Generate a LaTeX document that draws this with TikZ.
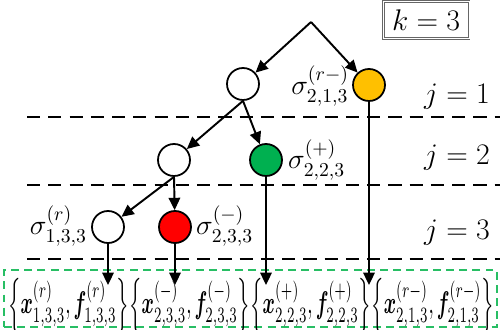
\documentclass[tikz,border=0pt]{standalone}
\usepackage{fix-cm}
\usepackage{amsmath,bm}
\usetikzlibrary{arrows.meta}
\definecolor{myyellow}{RGB}{255,192,0}
\definecolor{mygreen}{RGB}{0,176,80}
\definecolor{boxgreen}{RGB}{40,190,100}
\begin{document}
\begin{tikzpicture}[x=0.02cm,y=-0.02cm,
  txt/.style={font=\fontsize{17}{19}\selectfont, inner sep=1pt},
  sig/.style={font=\fontsize{16}{18}\selectfont, inner sep=1pt},
  state/.style={circle, draw=black, line width=1pt, minimum size=0.64cm, inner sep=0pt},
  edge/.style={line width=1.1pt, -{Triangle[length=7pt,width=6.5pt]}},
  level/.style={dash pattern=on 7.5pt off 4.6pt, line width=1.6pt},
  gbox/.style={draw=boxgreen, dash pattern=on 4.5pt off 3pt, line width=1pt}]
\useasboundingbox (0,0) rectangle (500,330);
% level separators
\draw[level] (27,117) -- (500,117);
\draw[level] (27,185) -- (500,185);
\draw[level] (27,259) -- (500,259);
% green box
\node[gbox, minimum width=9.86cm, minimum height=1.14cm, inner sep=0pt] (box) at (250.5,298.5) {};
% tree
\coordinate (top) at (311,22);
\node[state] (a) at (243,84) {};
\node[state, fill=myyellow] (y) at (369,85) {};
\node[state] (b) at (174,160) {};
\node[state, fill=mygreen] (g) at (266,160) {};
\node[state] (c) at (108,227) {};
\node[state, fill=red] (r) at (175,227) {};
\coordinate (ec) at (108,285);
\coordinate (er) at (175,285);
\coordinate (eg) at (266,285);
\coordinate (ey) at (369,285);
\draw[edge] (top) -- (a);
\draw[edge] (top) -- (y);
\draw[edge] (a.south) -- (b);
\draw[edge] (a.south) -- (g);
\draw[edge] (b.south) -- (c);
\draw[edge] (b.south) -- (r);
\draw[edge] (c.south) -- (ec);
\draw[edge] (r.south) -- (er);
\draw[edge] (g.south) -- (eg);
\draw[edge] (y.south) -- (ey);
% labels
\node[sig, anchor=east] (ly) at (351,86) {$\sigma^{(r-)}_{2,1,3}$};
\node[sig, anchor=west] (lg) at (286,160) {$\sigma^{(+)}_{2,2,3}$};
\node[sig, anchor=east] (lc) at (89,226) {$\sigma^{(r)}_{1,3,3}$};
\node[sig, anchor=west] (lr) at (194,226) {$\sigma^{(-)}_{2,3,3}$};
\node[txt] (j1) at (457,97) {$j=1$};
\node[txt] (j2) at (457,158) {$j=2$};
\node[txt] (j3) at (457,233) {$j=3$};
\node[txt, draw=black!60, double=white, double distance=0.5pt, line width=0.6pt, minimum width=1.72cm, minimum height=0.74cm, inner sep=0pt] (k) at (426,20) {$k=3$};
\node[inner sep=0pt] (res) at (251,306) {\resizebox{9.72cm}{0.72cm}{$\left\{\bm{x}^{(r)}_{1,3,3},\bm{f}^{(r)}_{1,3,3}\right\}\!\left\{\bm{x}^{(-)}_{2,3,3},\bm{f}^{(-)}_{2,3,3}\right\}\!\left\{\bm{x}^{(+)}_{2,2,3},\bm{f}^{(+)}_{2,2,3}\right\}\!\left\{\bm{x}^{(r-)}_{2,1,3},\bm{f}^{(r-)}_{2,1,3}\right\}$}};
\end{tikzpicture}
\end{document}
